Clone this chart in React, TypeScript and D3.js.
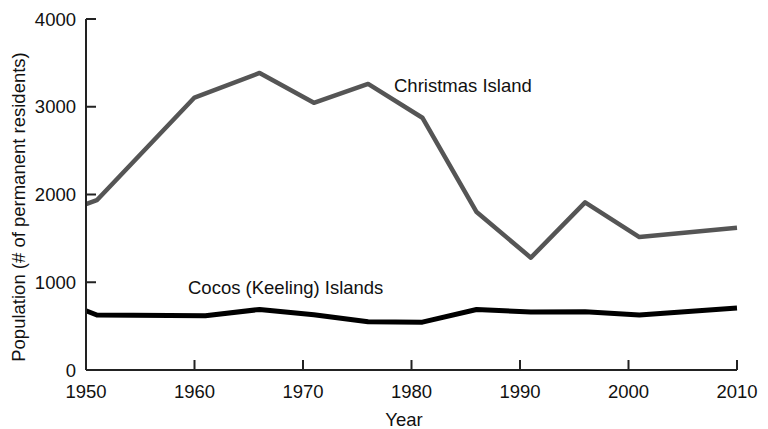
import React from "react";
import * as d3 from "d3";

const years = [1950, 1951, 1960, 1966, 1971, 1976, 1981, 1986, 1991, 1996, 2001, 2010];
const christmas = [1890, 1935, 3105, 3385, 3045, 3260, 2875, 1800, 1280, 1910, 1515, 1620];
const cocosYears = [1950, 1951, 1961, 1966, 1971, 1976, 1981, 1986, 1991, 1996, 2001, 2010];
const cocos = [675, 627, 618, 690, 630, 550, 545, 690, 660, 665, 627, 706];
const xTicks = [1950, 1960, 1970, 1980, 1990, 2000, 2010];
const yTicks = [0, 1000, 2000, 3000, 4000];

const FONT = "'Liberation Sans', Arial, sans-serif";

export default function App() {
  const x = d3.scaleLinear().domain([1950, 2010]).range([86, 737]);
  const y = d3.scaleLinear().domain([0, 4000]).range([370, 19]);
  const line = d3
    .line<[number, number]>()
    .x((d) => x(d[0]))
    .y((d) => y(d[1]));
  const cPts = years.map((yr, i) => [yr, christmas[i]] as [number, number]);
  const kPts = cocosYears.map((yr, i) => [yr, cocos[i]] as [number, number]);
  const axisColor = "#222";
  return (
    <div style={{ position: "absolute", left: 0, top: 0 }}>
      <svg width={768} height={429} style={{ display: "block", background: "#fff" }}>
        <path d={line(cPts) || ""} fill="none" stroke="#555" strokeWidth={4.5} strokeLinejoin="round" />
        <path d={line(kPts) || ""} fill="none" stroke="#000" strokeWidth={5} strokeLinejoin="round" />
        <line x1={x(1950)} x2={x(1950)} y1={y(4000)} y2={y(0)} stroke={axisColor} strokeWidth={2} />
        <line x1={x(1950)} x2={x(2010)} y1={y(0)} y2={y(0)} stroke={axisColor} strokeWidth={2} />
        {yTicks.map((t) => (
          <g key={"y" + t}>
            <line x1={x(1950)} x2={x(1950) + 10} y1={y(t)} y2={y(t)} stroke={axisColor} strokeWidth={2} />
            <text x={76} y={y(t) + 6.5} textAnchor="end" fontFamily={FONT} fontSize={18.5} fill="#111">
              {t}
            </text>
          </g>
        ))}
        {xTicks.map((t) => (
          <g key={"x" + t}>
            <line x1={x(t)} x2={x(t)} y1={y(0)} y2={y(0) - 10} stroke={axisColor} strokeWidth={2} />
            <text x={x(t)} y={398} textAnchor="middle" fontFamily={FONT} fontSize={18.5} fill="#111">
              {t}
            </text>
          </g>
        ))}
        <text x={404} y={426} textAnchor="middle" fontFamily={FONT} fontSize={18.5} fill="#111">
          Year
        </text>
        <text
          transform={`translate(25,207) rotate(-90)`}
          textAnchor="middle"
          fontFamily={FONT}
          fontSize={18.5}
          fill="#111"
        >
          Population (# of permanent residents)
        </text>
        <text x={394} y={91.5} fontFamily={FONT} fontSize={18.5} fill="#111">
          Christmas Island
        </text>
        <text x={188} y={293.5} fontFamily={FONT} fontSize={18.5} fill="#111">
          Cocos (Keeling) Islands
        </text>
      </svg>
    </div>
  );
}
